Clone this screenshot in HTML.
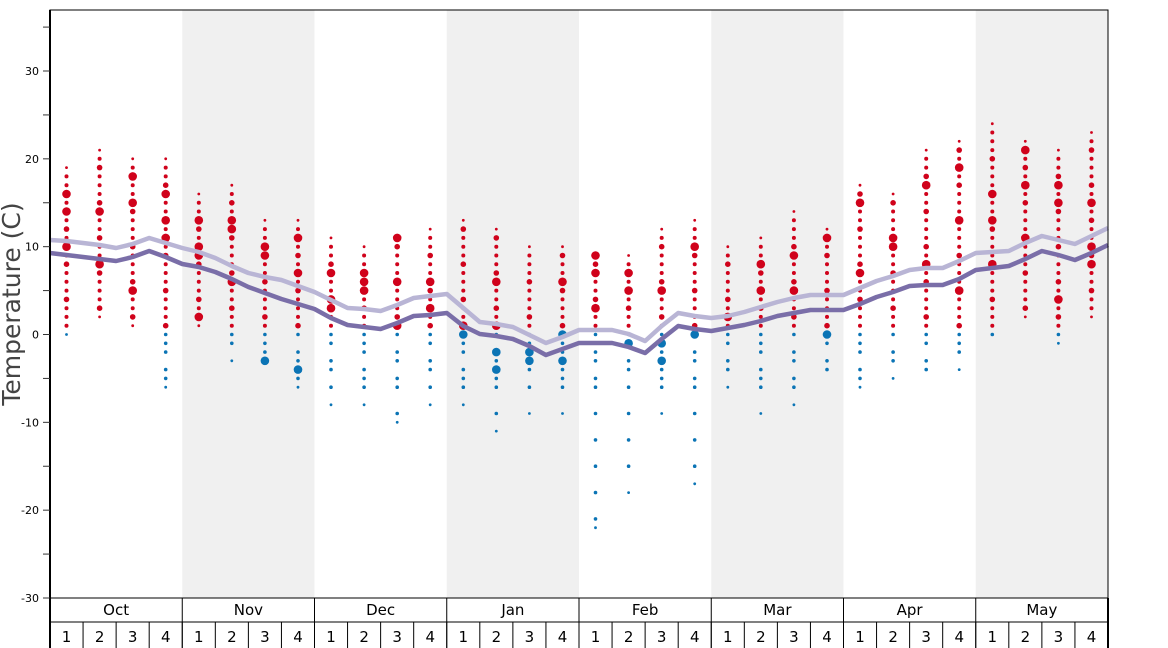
<!DOCTYPE html>
<html><head><meta charset="utf-8"><style>
html,body{margin:0;padding:0;background:#fff;}
svg{display:block;font-family:"DejaVu Sans","Liberation Sans",sans-serif;}
</style></head><body>
<svg id="s" width="1168" height="648" viewBox="0 0 1168 648" xmlns="http://www.w3.org/2000/svg"></svg>
<script>
var s=document.getElementById('s'),h='';
var X0=50,X1=1108,W=(X1-X0)/32;
function Y(v){return 334.5-v*8.783;}
[1,3,5,7].forEach(function(m){h+='<rect x="'+(X0+m*4*W)+'" y="10" width="'+(4*W)+'" height="588" fill="#f0f0f0"/>';});
var d=[[0,19,[14,16,10]],[2,21,[14,8]],[1,20,[18,15,5]],[-6,20,[16,13,11]],[1,16,[2,13,10,9]],[-3,17,[12,13,6]],[-3,13,[10,9,-3]],[-6,13,[11,7,-4]],[-8,11,[7,4,3]],[-8,10,[6,7,5]],[-10,11,[6,11,1]],[-8,12,[6,3]],[-8,13,[0,1]],[-11,12,[6,1,-4,-2]],[-9,10,[-3,-2]],[-9,10,[6,0,-3]],[-22,9,[9,7,3]],[-18,9,[7,5,-1]],[-9,12,[5,-1,-3]],[-17,13,[10,0]],[-6,10,[2]],[-9,11,[5,8]],[-8,14,[9,5]],[-5,12,[11,0]],[-6,17,[15,7]],[-5,16,[10,11]],[-5,21,[17,8]],[-4,22,[13,19,5]],[-1,24,[13,16,8]],[2,22,[21,17,11]],[-1,21,[17,15,4]],[2,23,[15,10,8]]];
d.forEach(function(w,i){var cx=X0+W*(i+.5);
 for(var v=w[0];v<=w[1];v++){
  if(v<=0){ if(v<-5 && v!==w[0] && (v%3)) continue; if(v<0&&v>-6&&((v+i)%3===0)) continue;}
  var r=(v===w[1]||v===w[0])?1.4:((v*7+i*3)%4===0?2.8:2);
  if(v<=0) r=Math.min(r,1.8);
  h+='<circle cx="'+cx.toFixed(1)+'" cy="'+Y(v).toFixed(1)+'" r="'+r+'" fill="'+(v>0?'#d0021b':'#0b74b5')+'"/>';}
 w[2].forEach(function(v){h+='<circle cx="'+cx.toFixed(1)+'" cy="'+Y(v).toFixed(1)+'" r="4.3" fill="'+(v>0?'#d0021b':'#0b74b5')+'"/>';});
});
var dk=[253,255,257,259,261,257,251,257,264,267,272,279,287,293,299,304,309,318,325,327,329,323,316,315,313,326,334,336,339,346,355,349,343,343,343,347,353,339,326,329,331,328,325,321,316,313,310,310,310,304,297,292,286,285,285,279,270,268,266,259,251,255,260,253,245];
var lt=[240,241,243,245,248,244,238,243,248,252,258,266,273,277,280,286,292,300,308,309,311,305,298,296,294,308,322,324,327,335,343,337,330,330,330,334,341,326,313,316,318,316,312,307,302,298,295,295,295,288,281,276,270,268,268,261,253,252,251,243,236,240,244,236,228];
function pl(a,c){var p=a.map(function(y,i){return (X0+i*W/2).toFixed(1)+','+y;}).join(' ');return '<polyline points="'+p+'" fill="none" stroke="'+c+'" stroke-width="4.5" stroke-linejoin="round"/>';}
h+=pl(lt,'#b9b5d5')+pl(dk,'#7a6ea8');
h+='<rect x="50" y="10" width="1058" height="588" fill="none" stroke="#000" stroke-width="1"/>';
h+='<line x1="50" y1="10" x2="50" y2="648" stroke="#000" stroke-width="2"/>';
for(var v=-30;v<=35;v+=5){var y=Y(v);h+='<line x1="43" y1="'+y+'" x2="50" y2="'+y+'" stroke="#333"/>';
 if(v%10===0&&v<=30)h+='<text x="39" y="'+(y+4)+'" font-size="11" text-anchor="end" fill="#000">'+v+'</text>';}
h+='<text transform="translate(20,304) rotate(-90)" font-size="25" text-anchor="middle" fill="#444">Temperature (C)</text>';
var M=['Oct','Nov','Dec','Jan','Feb','Mar','Apr','May'];
h+='<line x1="50" y1="622" x2="1108" y2="622" stroke="#000"/><line x1="1108" y1="598" x2="1108" y2="648" stroke="#000" stroke-width="2"/>';
M.forEach(function(m,i){var x=X0+i*4*W;h+='<line x1="'+x+'" y1="598" x2="'+x+'" y2="648" stroke="#000"/>';
 h+='<text x="'+(x+2*W)+'" y="615" font-size="15" text-anchor="middle">'+m+'</text>';
 for(var k=0;k<4;k++){var xx=x+k*W;h+='<line x1="'+xx+'" y1="622" x2="'+xx+'" y2="648" stroke="#000"/><text x="'+(xx+W/2)+'" y="642" font-size="15" text-anchor="middle">'+(k+1)+'</text>';}
});
s.innerHTML=h;
</script>
</body></html>
